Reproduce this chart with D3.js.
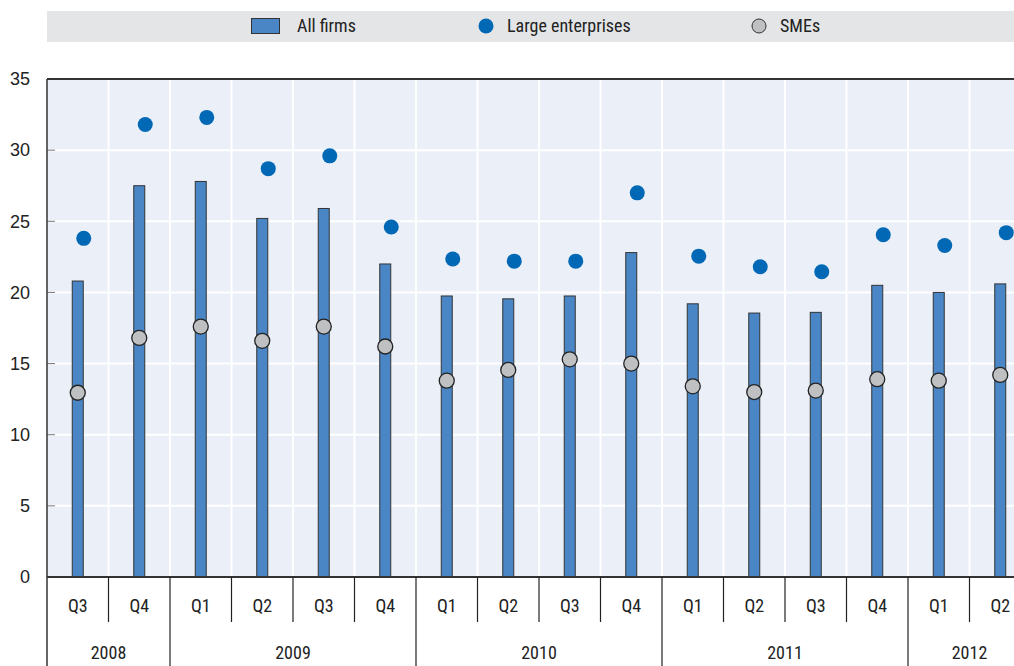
<!DOCTYPE html>
<html>
<head>
<meta charset="utf-8">
<script src="https://cdn.jsdelivr.net/npm/d3@7"></script>
<style>
  body { margin: 0; background: #fff; }
  svg { display: block; font-family: "Liberation Sans Narrow", "Roboto Condensed", "Arial Narrow", "Liberation Sans", sans-serif; }
</style>
</head>
<body>
<div id="chart"></div>
<script>
// quarters and the year each one belongs to
var quarters = ["Q3", "Q4", "Q1", "Q2", "Q3", "Q4", "Q1", "Q2", "Q3", "Q4", "Q1", "Q2", "Q3", "Q4", "Q1", "Q2"];
var years = ["2008", "2008", "2009", "2009", "2009", "2009", "2010", "2010", "2010", "2010", "2011", "2011", "2011", "2011", "2012", "2012"];
// series values
var allFirms = [20.8, 27.5, 27.8, 25.2, 25.9, 22.0, 19.75, 19.55, 19.75, 22.8, 19.2, 18.55, 18.6, 20.5, 20.0, 20.6];
var largeEnt = [23.8, 31.8, 32.3, 28.7, 29.6, 24.6, 22.35, 22.2, 22.2, 27.0, 22.55, 21.8, 21.45, 24.05, 23.3, 24.2];
var smes = [12.95, 16.8, 17.6, 16.6, 17.6, 16.2, 13.8, 14.55, 15.3, 15.0, 13.4, 13.0, 13.1, 13.9, 13.8, 14.2];
var yTicks = [0, 5, 10, 15, 20, 25, 30, 35];

var W = 1014, H = 666;
var margin = { left: 47, top: 79, bottom: 577 };
var fs = 18;
var keys = quarters.map(function (q, i) { return years[i] + "-" + q; });

var svg = d3.select("#chart").append("svg").attr("width", W).attr("height", H);

var x = d3.scaleBand().domain(keys).range([margin.left, margin.left + 16 * 61.5]).padding(0);
var y = d3.scaleLinear().domain([0, 35]).range([margin.bottom, margin.top]);

// legend
svg.append("rect").attr("x", 47).attr("y", 11).attr("width", W - 47).attr("height", 31).attr("fill", "#e4e5e6");
var lg = svg.append("g").attr("font-size", fs).attr("fill", "#222");
lg.append("rect").attr("x", 251.5).attr("y", 18.5).attr("width", 28).attr("height", 15).attr("fill", "#4a86c5").attr("stroke", "#333");
lg.append("text").attr("x", 297).attr("y", 32).text("All firms");
lg.append("circle").attr("cx", 486).attr("cy", 26).attr("r", 7.5).attr("fill", "#0068b5");
lg.append("text").attr("x", 507).attr("y", 32).text("Large enterprises");
lg.append("circle").attr("cx", 759).attr("cy", 26).attr("r", 7).attr("fill", "#bfc0c2").attr("stroke", "#333");
lg.append("text").attr("x", 780).attr("y", 32).text("SMEs");

// plot background
svg.append("rect").attr("x", margin.left).attr("y", margin.top)
  .attr("width", W - margin.left).attr("height", margin.bottom - margin.top).attr("fill", "#eaeff8");

// grid
svg.append("g").selectAll("line").data(yTicks.slice(1, -1)).enter().append("line")
  .attr("x1", margin.left).attr("x2", W).attr("y1", function (d) { return y(d); }).attr("y2", function (d) { return y(d); })
  .attr("stroke", "#fff").attr("stroke-width", 2);
svg.append("g").selectAll("line").data(keys.slice(1)).enter().append("line")
  .attr("x1", function (d) { return x(d); }).attr("x2", function (d) { return x(d); })
  .attr("y1", margin.top).attr("y2", margin.bottom).attr("stroke", "#fff").attr("stroke-width", 2);

// y axis
var yAxis = d3.axisLeft(y).tickValues(yTicks).tickSize(0).tickPadding(17);
var yG = svg.append("g").attr("transform", "translate(" + margin.left + ",0)").call(yAxis);
yG.select(".domain").remove();
yG.selectAll("text").attr("font-size", fs).attr("fill", "#222").attr("font-family", null);
svg.append("g").selectAll("line").data(yTicks.slice(1, -1)).enter().append("line")
  .attr("x1", margin.left).attr("x2", margin.left + 8).attr("y1", function (d) { return y(d); }).attr("y2", function (d) { return y(d); })
  .attr("stroke", "#777").attr("stroke-width", 1);

// bars
var bw = 11;
svg.append("g").selectAll("rect").data(allFirms).enter().append("rect")
  .attr("x", function (d, i) { return x(keys[i]) + x.bandwidth() / 2 - bw / 2; })
  .attr("y", function (d) { return y(d); })
  .attr("width", bw)
  .attr("height", function (d) { return y(0) - y(d); })
  .attr("fill", "#4a86c5").attr("stroke", "#333").attr("stroke-width", 1);

// large enterprises
svg.append("g").selectAll("circle").data(largeEnt).enter().append("circle")
  .attr("cx", function (d, i) { return x(keys[i]) + x.bandwidth() / 2 + 6; })
  .attr("cy", function (d) { return y(d); })
  .attr("r", 7.5).attr("fill", "#0068b5");

// SMEs
svg.append("g").selectAll("circle").data(smes).enter().append("circle")
  .attr("cx", function (d, i) { return x(keys[i]) + x.bandwidth() / 2; })
  .attr("cy", function (d) { return y(d); })
  .attr("r", 7.5).attr("fill", "#bfc0c2").attr("stroke", "#222").attr("stroke-width", 1.3);

// plot frame lines
svg.append("line").attr("x1", margin.left).attr("x2", W).attr("y1", margin.top).attr("y2", margin.top).attr("stroke", "#333").attr("stroke-width", 2);
svg.append("line").attr("x1", margin.left).attr("x2", W).attr("y1", margin.bottom).attr("y2", margin.bottom).attr("stroke", "#333").attr("stroke-width", 2);
svg.append("line").attr("x1", margin.left).attr("x2", margin.left).attr("y1", margin.top).attr("y2", H).attr("stroke", "#333").attr("stroke-width", 1.5);

// x axis: quarter labels and dividers
var xg = svg.append("g");
xg.selectAll("line").data(keys.slice(1)).enter().append("line")
  .attr("x1", function (d) { return x(d); }).attr("x2", function (d) { return x(d); })
  .attr("y1", margin.bottom).attr("y2", function (d, i) { return years[i + 1] !== years[i] ? H : 622; })
  .attr("stroke", "#222").attr("stroke-width", 1.2);
xg.selectAll("text").data(keys).enter().append("text")
  .attr("x", function (d) { return x(d) + x.bandwidth() / 2; })
  .attr("y", 612).attr("text-anchor", "middle").attr("font-size", fs).attr("fill", "#222")
  .text(function (d, i) { return quarters[i]; });

// year labels
var yearList = Array.from(new Set(years));
svg.append("g").selectAll("text").data(yearList).enter().append("text")
  .attr("x", function (yr) {
    var idx = keys.filter(function (k, i) { return years[i] === yr; });
    var x0 = x(idx[0]), x1 = x(idx[idx.length - 1]) + x.bandwidth();
    return (x0 + x1) / 2;
  })
  .attr("y", 659).attr("text-anchor", "middle").attr("font-size", fs).attr("fill", "#222")
  .text(function (d) { return d; });
</script>
</body>
</html>
